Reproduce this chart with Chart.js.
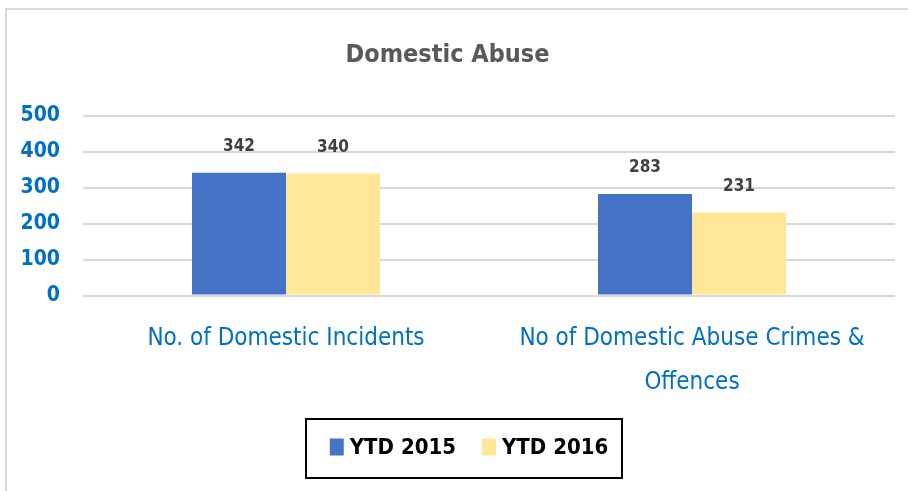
<!DOCTYPE html>
<html>
<head>
<meta charset="utf-8">
<script src="https://cdn.jsdelivr.net/npm/chart.js@4/dist/chart.umd.min.js"></script>
<style>
  html, body { margin: 0; padding: 0; background: #ffffff; }
  #wrap { position: relative; width: 908px; height: 491px; }
</style>
</head>
<body>
<div id="wrap"><canvas id="c" width="908" height="491"></canvas></div>
<script>
const categories = [["No. of Domestic Incidents"], ["No of Domestic Abuse Crimes &", "Offences"]];
const seriesNames = ["YTD 2015", "YTD 2016"];
const ytd2015 = [342, 283];
const ytd2016 = [340, 231];
const yTicks = [0, 100, 200, 300, 400, 500];
const chartTitle = "Domestic Abuse";

const FONT = "'Liberation Sans Narrow', 'DejaVu Sans Condensed', 'Open Sans', sans-serif";
const colors = ["#4472C4", "#FFE699"];

const framePlugin = {
  id: 'frame',
  beforeDraw(chart) {
    const ctx = chart.ctx;
    ctx.save();
    ctx.fillStyle = '#ffffff';
    ctx.fillRect(0, 0, chart.width, chart.height);
    ctx.strokeStyle = '#d9d9d9';
    ctx.lineWidth = 2;
    ctx.strokeRect(6, 9, chart.width + 20, chart.height + 20);
    ctx.restore();
  }
};

const valueLabels = {
  id: 'valueLabels',
  afterDatasetsDraw(chart) {
    const ctx = chart.ctx;
    ctx.save();
    ctx.font = "bold 17px " + FONT;
    ctx.fillStyle = '#404040';
    ctx.textAlign = 'center';
    ctx.textBaseline = 'middle';
    chart.data.datasets.forEach((ds, i) => {
      chart.getDatasetMeta(i).data.forEach((bar, j) => {
        ctx.fillText(String(ds.data[j]), bar.x, bar.y - 26);
      });
    });
    ctx.restore();
  }
};

const boxedLegend = {
  id: 'boxedLegend',
  afterDraw(chart) {
    const ctx = chart.ctx;
    ctx.save();
    ctx.font = "bold 22px " + FONT;
    const boxW = 14, boxH = 17, gapBox = 6, gapItem = 28;
    const widths = chart.data.datasets.map(ds => ctx.measureText(ds.label).width);
    let total = 0;
    widths.forEach((w, i) => { total += boxW + gapBox + w + (i ? gapItem : 0); });
    const left = 306, right = 622, top = 419, bottom = 478;
    ctx.strokeStyle = '#000000';
    ctx.lineWidth = 2;
    ctx.strokeRect(left, top, right - left, bottom - top);
    let x = (left + right) / 2 - total / 2 + 6;
    const cy = 447;
    chart.data.datasets.forEach((ds, i) => {
      ctx.fillStyle = ds.backgroundColor;
      ctx.fillRect(x, cy - boxH / 2, boxW, boxH);
      x += boxW + gapBox;
      ctx.fillStyle = '#000000';
      ctx.textAlign = 'left';
      ctx.textBaseline = 'middle';
      ctx.fillText(ds.label, x, cy + 1);
      x += widths[i] + gapItem - 2;
    });
    ctx.restore();
  }
};

new Chart(document.getElementById('c'), {
  type: 'bar',
  data: {
    labels: categories,
    datasets: [
      { label: seriesNames[0], data: ytd2015, backgroundColor: colors[0] },
      { label: seriesNames[1], data: ytd2016, backgroundColor: colors[1] }
    ]
  },
  options: {
    responsive: false,
    animation: false,
    devicePixelRatio: 1,
    layout: { padding: { left: 0, right: 13, top: 8, bottom: 73 } },
    datasets: { bar: { categoryPercentage: 0.463, barPercentage: 1.0 } },
    plugins: {
      legend: { display: false },
      tooltip: { enabled: false },
      title: {
        display: true,
        text: chartTitle,
        color: '#595959',
        font: { family: FONT, size: 25, weight: 'bold', lineHeight: 1.2 },
        padding: { top: 32, bottom: 46 }
      }
    },
    scales: {
      x: {
        grid: { display: false },
        border: { display: false },
        ticks: {
          color: '#0070C0',
          font: { family: FONT, size: 24, lineHeight: 1.8 },
          padding: 14,
          maxRotation: 0,
          autoSkip: false
        }
      },
      y: {
        min: 0,
        max: 500,
        afterFit(scale) { scale.width = 83; },
        afterBuildTicks(scale) { scale.ticks = yTicks.map(v => ({ value: v })); },
        grid: { color: '#d9d9d9', lineWidth: 2, drawTicks: false },
        border: { display: false },
        ticks: {
          color: '#0070C0',
          font: { family: FONT, size: 21, weight: 'bold' },
          padding: 23
        }
      }
    }
  },
  plugins: [framePlugin, valueLabels, boxedLegend]
});
</script>
</body>
</html>
